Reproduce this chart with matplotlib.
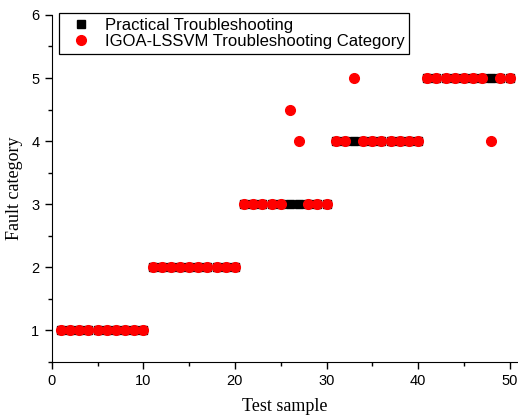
import matplotlib
matplotlib.use('Agg')
import matplotlib.pyplot as plt
import numpy as np
from matplotlib.ticker import MultipleLocator

# test samples 1..50 and their fault categories
samples = np.arange(1, 51)
actual = [1] * 10 + [2] * 10 + [3] * 10 + [4] * 10 + [5] * 10
predicted = list(actual)
# misclassified samples
predicted[25] = 4.5
predicted[26] = 4
predicted[32] = 5
predicted[47] = 4

fig = plt.figure(figsize=(5.18, 4.15), dpi=100)
ax = fig.add_axes([0.100, 0.128, 0.898, 0.836])

ax.plot(samples, actual, 's', color='black', markersize=5.8, linestyle='none',
        label='Practical Troubleshooting')
ax.plot(samples, predicted, 'o', color='red', markersize=7, linestyle='none',
        label='IGOA-LSSVM Troubleshooting Category')

ax.set_xlim(0, 50.8)
ax.set_ylim(0.5, 6)
ax.xaxis.set_major_locator(MultipleLocator(10))
ax.xaxis.set_minor_locator(MultipleLocator(5))
ax.yaxis.set_major_locator(MultipleLocator(1))
ax.yaxis.set_minor_locator(MultipleLocator(0.5))
ax.set_yticks([1, 2, 3, 4, 5, 6])
ax.tick_params(which='both', direction='out', width=1)
ax.tick_params(which='major', length=5, labelsize=10.5, pad=4)
ax.tick_params(which='minor', length=3)
for lbl in ax.get_xticklabels() + ax.get_yticklabels():
    lbl.set_family('Liberation Sans')

ax.spines['top'].set_visible(False)
ax.spines['right'].set_visible(False)

ax.set_xlabel('Test sample', family='Liberation Serif', fontsize=13, labelpad=7)
ax.set_ylabel('Fault category', family='Liberation Serif', fontsize=13, labelpad=6)

leg = ax.legend(loc='upper left', prop={'family': 'Liberation Sans', 'size': 12},
                fancybox=False, edgecolor='black', framealpha=1,
                borderpad=0.3, handlelength=2.1, handletextpad=0.35,
                labelspacing=0.05, borderaxespad=0,
                bbox_to_anchor=(0.015, 1.006))
leg.get_frame().set_linewidth(0.9)

fig.savefig('out.png', dpi=100)
